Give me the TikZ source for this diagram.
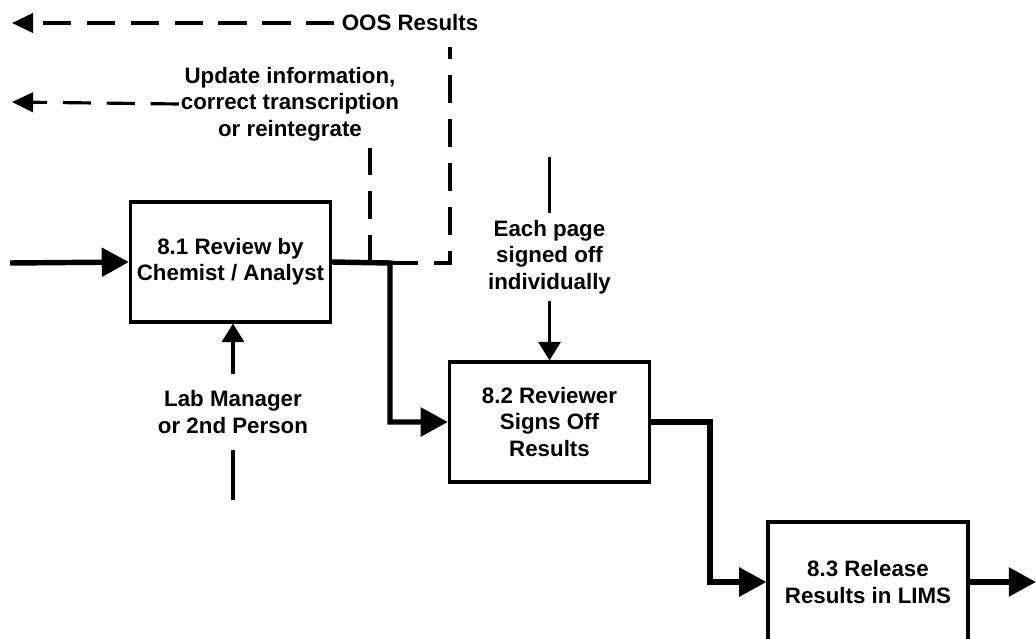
\documentclass[tikz,border=0pt]{standalone}
\usepackage{fontspec}
\setmainfont{Liberation Sans}
\usetikzlibrary{arrows.meta,positioning,calc}

\begin{document}
\begin{tikzpicture}[x=0.02cm,y=-0.02cm,
    box/.style={draw,line width=1.8pt,minimum width=4cm,minimum height=2.4cm,align=center,
        font=\bfseries\fontsize{12.7}{15}\selectfont},
    lbl/.style={align=center,inner sep=4pt,font=\bfseries\fontsize{12.7}{15}\selectfont},
    flow/.style={line width=3.1pt,-{Triangle[length=15.5pt,width=16pt]}},
    ctrl/.style={line width=1.8pt},
    ctrlarrow/.style={ctrl,-{Triangle[length=10.5pt,width=12.5pt]}},
    back/.style={line width=1.8pt,dash pattern=on 16pt off 9pt},
    backarrow/.style={back,-{Triangle[length=12pt,width=11pt]}}]
    \clip (0,0) rectangle (1036,639);
    % boxes
    \node[box] (review) at (230.5,262) {8.1 Review by\\Chemist / Analyst};
    \node[box] (signoff) at (549.5,422) {8.2 Reviewer\\Signs Off\\Results};
    \node[box] (release) at (868,582) {8.3 Release\\Results in LIMS};
    % labels
    \node[lbl] (oos) at (410,23) {OOS Results};
    \node[lbl,inner sep=1pt] (update) at (290,104) {Update information,\\correct transcription\\or reintegrate};
    \node[lbl,inner sep=9pt] (labmgr) at (233,412) {Lab Manager\\or 2nd Person};
    \node[lbl] (eachpage) at (549.5,257) {Each page\\signed off\\individually};
    % points
    \coordinate (start) at (10,263);
    \coordinate (split) at (390,263);
    \coordinate (rework) at (370,263);
    \coordinate (ooscorner) at (450,263);
    \coordinate (oostop) at (450,47);
    \coordinate (oosend) at (12,23);
    \coordinate (updend) at (12,102);
    \coordinate (labin) at (233,500);
    \coordinate (pagein) at (549.5,157);
    \coordinate (turn) at (710,422);
    \coordinate (finish) at (1036,582);
    % main flow
    \draw[flow] (start) -- (review.west);
    \draw[flow] (review.east) -- (split) |- (signoff.west);
    \draw[flow] (signoff.east) -- (turn) |- (release.west);
    \draw[flow] (release.east) -- (finish);
    % feedback loops
    \draw[back] (split) -- (ooscorner) -- (oostop);
    \draw[backarrow] (oos.west) -- (oosend);
    \draw[back] (rework) -- ([yshift=-3pt]rework |- update.south);
    \draw[backarrow] (update.west) -- (updend);
    % controls
    \draw[ctrl] (labin) -- (labmgr.south);
    \draw[ctrlarrow] (labmgr.north) -- (labmgr.north |- review.south);
    \draw[ctrl] (pagein) -- (eachpage.north);
    \draw[ctrlarrow] (eachpage.south) -- (signoff.north);
\end{tikzpicture}
\end{document}
